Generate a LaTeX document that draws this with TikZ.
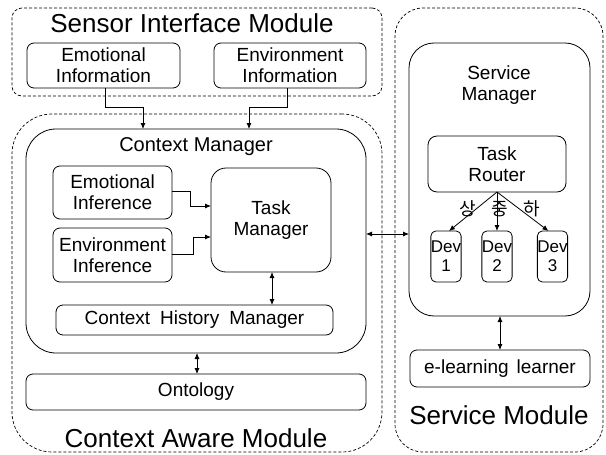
\documentclass[tikz,border=0pt]{standalone}
\usepackage{fontspec}
\setmainfont{Liberation Sans}
\newfontfamily\krfont{Noto Sans CJK KR}
\usetikzlibrary{arrows.meta}
\begin{document}
\begin{tikzpicture}[x=1pt,y=-1pt,
  every node/.style={inner sep=0pt, outer sep=0pt},
  module/.style={draw, dash pattern=on 3pt off 2pt, line width=0.7pt},
  mgr/.style={draw, line width=0.8pt, fill=white},
  box/.style={draw, line width=0.8pt, rounded corners=7pt, align=center, fill=white,
    font=\fontsize{19}{21}\selectfont},
  devbox/.style={box, rounded corners=5pt, minimum width=30pt, minimum height=51pt,
    font=\fontsize{17}{19}\selectfont},
  title/.style={font=\fontsize{26}{30}\selectfont, anchor=base},
  lab/.style={font=\fontsize{19}{21}\selectfont, align=center},
  kr/.style={font={\krfont\fontsize{18}{20}\selectfont}},
  link/.style={line width=0.8pt, -{Latex[length=6pt,width=5pt]}},
  dlink/.style={line width=0.8pt, {Latex[length=6pt,width=5pt]}-{Latex[length=6pt,width=5pt]}},
]
\useasboundingbox[fill=white] (0,0) rectangle (606,455);

% module outlines
\node[module, rounded corners=10pt, minimum width=370pt, minimum height=88pt] (sim) at (197,52) {};
\node[module, rounded corners=40pt, minimum width=370pt, minimum height=338pt] (cam) at (197,283) {};
\node[module, rounded corners=28pt, minimum width=208pt, minimum height=444pt] (svm) at (499,230) {};

% sensor interface module
\node[title] (simt) at (192,32) {Sensor Interface Module};
\node[box, minimum width=153pt, minimum height=45pt] (emoinfo) at (103.5,65.5) {Emotional\\Information};
\node[box, minimum width=152pt, minimum height=45pt] (envinfo) at (290,65.5) {Environment\\Information};

% context aware module
\node[mgr, rounded corners=30pt, minimum width=340pt, minimum height=224pt] (cm) at (196,241) {};
\node[title, font=\fontsize{20}{24}\selectfont] (cmt) at (196,151) {Context Manager};
\node[box, minimum width=119pt, minimum height=53pt] (emoinf) at (112.5,192.5) {Emotional\\Inference};
\node[box, minimum width=119pt, minimum height=54pt] (envinf) at (112.5,255) {Environment\\Inference};
\node[box, rounded corners=15pt, minimum width=120pt, minimum height=104pt] (tm) at (271,220) {Task\\Manager};
\node[box, minimum width=277pt, minimum height=30pt] (chm) at (194.5,320) {Context\hspace{10pt}History\hspace{10pt}Manager};
\node[box, minimum width=340pt, minimum height=36pt] (onto) at (196,392) {Ontology};
\node[title] (camt) at (196,447) {Context Aware Module};

% service module
\node[mgr, rounded corners=25pt, minimum width=181pt, minimum height=273pt] (smgr) at (499.5,179.5) {};
\node[lab] (smgrt) at (499,85) {Service\\Manager};
\node[box, rounded corners=9pt, minimum width=138pt, minimum height=56pt] (tr) at (497,164) {Task\\Router};
\node[devbox] (dev1) at (446,256.5) {Dev\\1};
\node[devbox] (dev2) at (497,256.5) {Dev\\2};
\node[devbox] (dev3) at (552.5,256.5) {Dev\\3};
\node[kr] (hi) at (468,209) {상};
\node[kr] (mid) at (500,209) {중};
\node[kr] (lo) at (532,209) {하};
\node[box, minimum width=180pt, minimum height=37pt] (elearn) at (500,368.5) {e-learning\hspace{8pt}learner};
\node[title] (svmt) at (499,424) {Service Module};

% connectors
\draw[link] (emoinfo.south -| 105,0) |- (143,107) -- (cm.north -| 143,0);
\draw[link] (envinfo.south -| 287,0) |- (249,107) -- (cm.north -| 249,0);
\draw[link] (emoinf.east |- 0,191) -| (190,206) -- (tm.west |- 0,206);
\draw[link] (envinf.east |- 0,254) -| (193,237) -- (tm.west |- 0,237);
\draw[dlink] (tm.south -| 272,0) -- (chm.north -| 272,0);
\draw[dlink] (cm.south -| 197,0) -- (onto.north -| 197,0);
\draw[dlink] (cm.east |- 0,234) -- (smgr.west |- 0,234);
\draw[link] (tr.south) -- ([xshift=3pt]dev1.north);
\draw[link] (tr.south) -- (dev2.north);
\draw[link] (tr.south) -- ([xshift=-4pt]dev3.north);
\draw[dlink] (smgr.south -| 500,0) -- (elearn.north -| 500,0);
\end{tikzpicture}
\end{document}
